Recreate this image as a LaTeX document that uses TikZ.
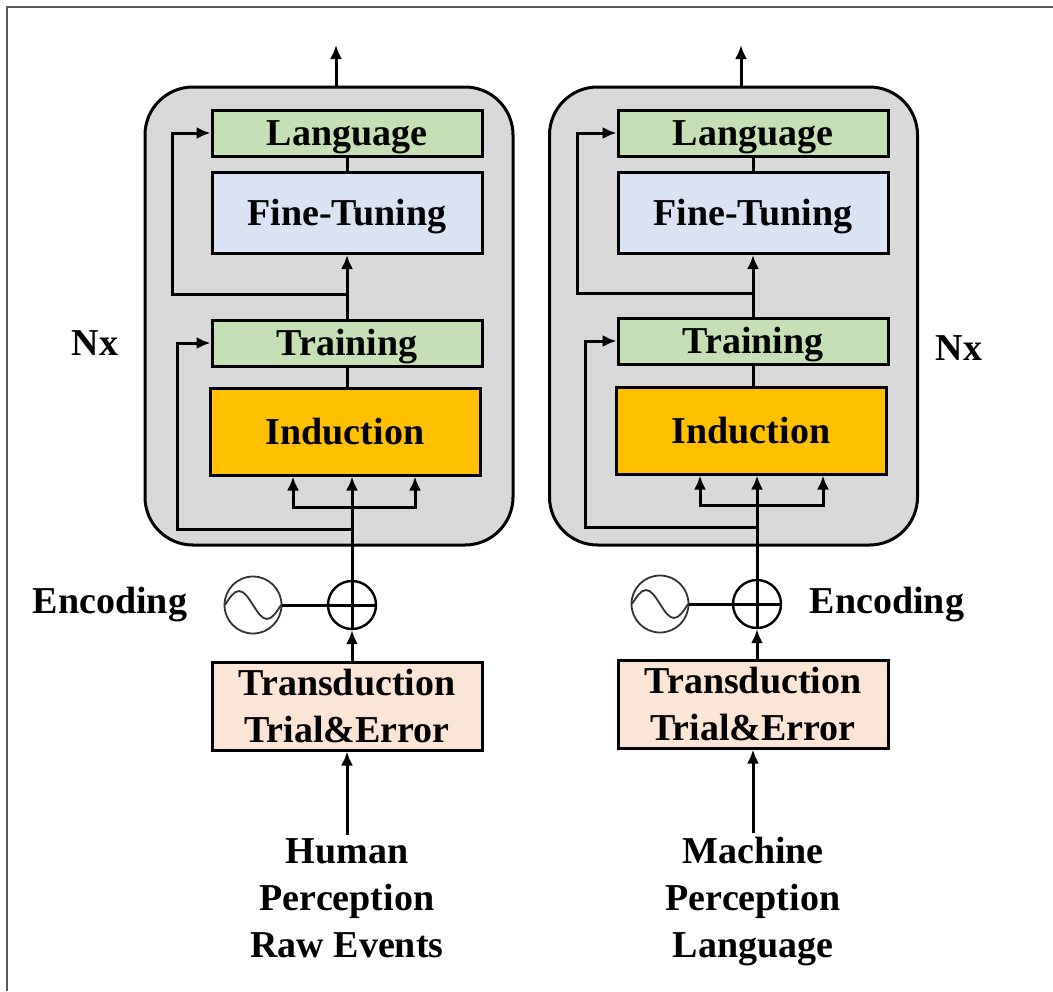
\documentclass[tikz,border=0pt]{standalone}
\usepackage{fontspec}
\setmainfont{Liberation Serif}
\usepackage{tikz}
\usetikzlibrary{arrows.meta}
\usetikzlibrary{positioning}

\definecolor{stackgray}{HTML}{D9D9D9}
\definecolor{layergreen}{HTML}{C5E0B4}
\definecolor{layerblue}{HTML}{DAE3F3}
\definecolor{layerorange}{HTML}{FFC000}
\definecolor{layerpeach}{HTML}{FBE5D6}
\definecolor{framegray}{HTML}{5A5A5A}

\begin{document}
\begin{tikzpicture}[x=0.5pt, y=-0.5pt, line width=1.5pt, >={Latex[length=7pt,width=6pt]},
        font=\fontsize{19}{23.5}\selectfont\bfseries,
        stack/.style={draw, fill=stackgray, rounded corners=24pt, minimum width=184pt, minimum height=229pt},
        layerbox/.style={draw, minimum width=135pt, inner sep=1pt},
        oneline/.style={layerbox, text height=12.6pt, text depth=0pt},
        twoline/.style={layerbox, align=center},
        addop/.style={draw, circle, minimum size=24pt, inner sep=0pt, line width=1.2pt},
        sineop/.style={draw=black!80, circle, minimum size=28.5pt, inner sep=0pt, line width=0.9pt},
        txt/.style={align=center, inner sep=1pt}]
            \useasboundingbox (0,0) rectangle (1053,991);
            \draw[framegray, line width=1pt] (7,991) -- (7,7) -- (1053,7);

            % left stack
            \node[stack] (stackL) at (329,316) {};
            \node[oneline, fill=layergreen, minimum height=23pt] (langL) at (347,133) {Language};
            \node[oneline, fill=layerblue, minimum height=40.5pt] (fineL) at (347,213) {Fine-Tuning};
            \node[oneline, fill=layergreen, minimum height=23pt] (trainL) at (347,343) {Training};
            \node[oneline, fill=layerorange, minimum height=43.5pt] (indL) at (345,431.5) {Induction};
            \node[addop] (addL) at (352,605) {};
            \node[sineop] (sinL) at (253,605) {};
            \node[twoline, fill=layerpeach, minimum height=44pt] (transL) at (347,706) {Transduction\\Trial\&Error};
            \node[txt] (inL) at (347,898) {Human\\Perception\\Raw Events};
            \node (nxL) at (95,343) {Nx};
            \node (encL) at (110,604) {Encoding};
            \coordinate (outL) at (336,45);
            \coordinate (skipL) at (347,294);
            \coordinate (forkL) at (352,507);
            \coordinate (resL) at (352,529);

            \draw[->] (outL |- stackL.north) -- (outL);
            \draw (fineL.north) -- (langL.south);
            \draw[->] (trainL.north) -- (fineL.south);
            \draw[->] (skipL) -- (172,294) |- (langL.west);
            \draw (trainL.south) -- (trainL.south |- indL.north);
            \draw[->] (addL.north) -- (addL.north |- indL.south);
            \draw[->] (forkL) -| ([xshift=-26pt]indL.south);
            \draw[->] (forkL) -| ([xshift=35pt]indL.south);
            \draw[->] (resL) -- (177,529) |- (trainL.west);
            \draw (addL.north) -- (addL.south);
            \draw (addL.west) -- (addL.east);
            \draw (sinL.east) -- (addL.west);
            \draw[black!80, line width=0.9pt] ([xshift=-14pt]sinL.center) sin ++(7pt,7pt) cos ++(7pt,-7pt) sin ++(7pt,-7pt) cos ++(7pt,7pt);
            \draw[->] (addL.south |- transL.north) -- (addL.south);
            \draw[->] (inL.north) -- (transL.south);

            % right stack
            \node[stack] (stackR) at (733.5,316) {};
            \node[oneline, fill=layergreen, minimum height=23pt] (langR) at (753,133) {Language};
            \node[oneline, fill=layerblue, minimum height=40.5pt] (fineR) at (753,213) {Fine-Tuning};
            \node[oneline, fill=layergreen, minimum height=23pt] (trainR) at (753,341) {Training};
            \node[oneline, fill=layerorange, minimum height=43.5pt] (indR) at (751,430.5) {Induction};
            \node[addop] (addR) at (757,604) {};
            \node[sineop] (sinR) at (660,604) {};
            \node[twoline, fill=layerpeach, minimum height=44pt] (transR) at (753,704) {Transduction\\Trial\&Error};
            \node[txt] (inR) at (753,901) {Machine\\Perception\\Language};
            \node (nxR) at (959,348) {Nx};
            \node (encR) at (887,604) {Encoding};
            \coordinate (outR) at (741,45);
            \coordinate (skipR) at (753,293);
            \coordinate (forkR) at (757,505);
            \coordinate (resR) at (757,527);

            \draw[->] (outR |- stackR.north) -- (outR);
            \draw (fineR.north) -- (langR.south);
            \draw[->] (trainR.north) -- (fineR.south);
            \draw[->] (skipR) -- (577,293) |- (langR.west);
            \draw (trainR.south) -- (trainR.south |- indR.north);
            \draw[->] (addR.north) -- (addR.north |- indR.south);
            \draw[->] (forkR) -| ([xshift=-25.5pt]indR.south);
            \draw[->] (forkR) -| ([xshift=36pt]indR.south);
            \draw[->] (resR) -- (585,527) |- (trainR.west);
            \draw (addR.north) -- (addR.south);
            \draw (addR.west) -- (addR.east);
            \draw (sinR.east) -- (addR.west);
            \draw[black!80, line width=0.9pt] ([xshift=-14pt]sinR.center) sin ++(7pt,7pt) cos ++(7pt,-7pt) sin ++(7pt,-7pt) cos ++(7pt,7pt);
            \draw[->] (addR.south |- transR.north) -- (addR.south);
            \draw[->] (inR.north) -- (transR.south);
        \end{tikzpicture}
\end{document}
